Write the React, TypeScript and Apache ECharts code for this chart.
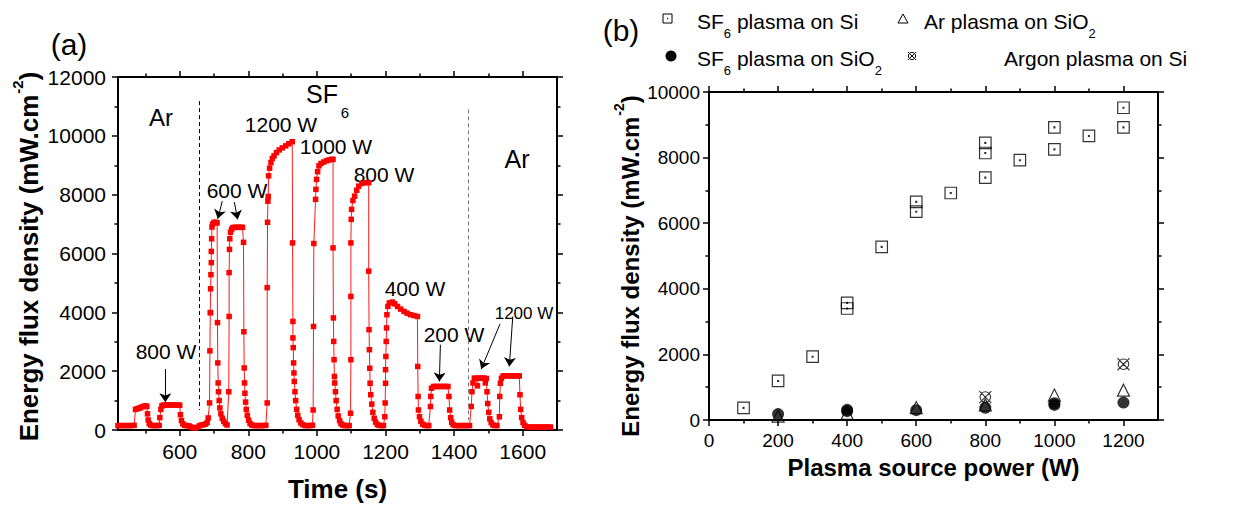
import React, { useEffect, useRef } from "react";
import * as echarts from "echarts";

const FONT = '"Liberation Sans", Arial, Helvetica, sans-serif';

// (a) measured trace: [time (s), energy flux density (mW.cm-2)]
const timeTrace: [number, number][] = [
  [420, 150], [428, 150], [436, 150], [444, 150], [452, 150], [460, 150], [467, 160],
  [471, 700], [476, 720], [481, 740], [486, 760], [491, 790], [496, 810], [501, 820], [504, 800],
  [506, 550], [508, 340], [511, 220], [515, 170], [521, 150], [528, 150], [535, 150], [540, 160],
  [542, 420], [545, 700], [548, 820], [553, 850], [560, 850], [567, 850], [574, 850], [581, 850], [588, 850], [595, 850], [600, 840],
  [602, 520], [605, 320], [609, 210], [614, 160], [620, 150], [627, 140], [633, 100], [639, 80], [645, 70], [651, 90], [657, 140], [663, 170], [669, 180], [675, 200], [680, 250], [683, 410],
  [687, 920], [688, 2690], [689, 3990], [690, 3990], [690, 4800], [691, 5280], [692, 5690], [692, 6070], [693, 6500], [694, 6900], [696, 7000], [700, 7060], [705, 7060], [709, 7040],
  [710, 3650], [711, 2280], [712, 1600], [713, 1300], [715, 1000], [717, 750], [720, 550], [724, 400], [728, 300], [733, 220], [738, 170],
  [743, 1300], [744, 3860], [744, 5350], [745, 6140], [746, 6500], [748, 6720], [751, 6820], [755, 6880], [760, 6890], [766, 6890], [772, 6890], [778, 6890], [783, 6890],
  [786, 6380], [787, 3340], [788, 2110], [789, 1600], [790, 1250], [792, 950], [794, 700], [797, 500], [801, 330], [805, 220], [810, 170],
  [816, 150], [823, 150], [830, 150], [837, 150], [844, 150], [851, 160],
  [855, 920], [855, 4840], [856, 7060], [857, 7780], [858, 7940], [859, 8640], [862, 8900], [866, 9090], [870, 9230], [875, 9320], [882, 9430], [890, 9520], [899, 9590], [909, 9660], [918, 9730], [928, 9800],
  [929, 6360], [930, 3690], [930, 3130], [931, 2800], [932, 2280], [933, 1940], [934, 1650], [936, 1300], [938, 1000], [941, 700], [944, 500], [948, 350], [953, 240], [959, 180],
  [966, 150], [973, 150], [980, 150], [987, 160],
  [989, 680], [990, 3520], [991, 6340], [996, 7840], [997, 8180], [999, 8520], [1002, 8780], [1006, 8980], [1012, 9060], [1020, 9110], [1028, 9150], [1035, 9180], [1042, 9200], [1047, 9200],
  [1047, 6190], [1048, 3810], [1049, 3010], [1050, 2390], [1051, 1820], [1052, 1600], [1054, 1300], [1056, 1000], [1059, 700], [1062, 480], [1066, 320], [1070, 220], [1075, 170],
  [1081, 150], [1088, 150], [1094, 150],
  [1098, 570], [1099, 2390], [1099, 4540], [1099, 6360], [1100, 7160], [1101, 7500], [1105, 7800], [1110, 7950], [1116, 8150], [1122, 8290], [1131, 8380], [1141, 8410], [1151, 8410],
  [1151, 5400], [1152, 3410], [1153, 2730], [1154, 2100], [1155, 1590], [1157, 1200], [1160, 880], [1163, 600], [1167, 400], [1171, 270], [1176, 190], [1181, 160],
  [1187, 150], [1194, 150],
  [1198, 450], [1199, 920], [1200, 1590], [1200, 2050], [1201, 2500], [1202, 3010], [1203, 3470], [1204, 3920], [1207, 4200], [1211, 4320], [1220, 4350], [1227, 4290], [1235, 4200], [1244, 4110], [1254, 4030], [1263, 3970], [1273, 3920], [1283, 3890], [1293, 3860],
  [1294, 2160], [1295, 1140], [1296, 680], [1299, 450], [1303, 300], [1308, 200], [1314, 160],
  [1320, 150], [1326, 150],
  [1331, 800], [1332, 1140], [1334, 1420], [1340, 1480], [1347, 1480], [1354, 1480], [1361, 1480], [1368, 1480], [1375, 1480], [1382, 1480],
  [1385, 1140], [1387, 680], [1390, 420], [1393, 260], [1397, 180],
  [1403, 150], [1410, 150], [1417, 150], [1424, 150], [1431, 150], [1438, 150], [1445, 150],
  [1450, 800], [1452, 1300], [1455, 1600], [1459, 1760], [1464, 1760], [1468, 1500], [1471, 1760], [1476, 1760], [1480, 1760], [1484, 1760], [1488, 1760], [1491, 1600], [1494, 1750],
  [1496, 1300], [1498, 900], [1501, 600], [1504, 380], [1508, 250], [1513, 170],
  [1519, 150], [1525, 150],
  [1532, 450], [1533, 1140], [1535, 1590], [1538, 1760], [1543, 1840], [1550, 1840], [1557, 1840], [1564, 1840], [1571, 1840], [1578, 1840], [1585, 1840], [1590, 1840],
  [1592, 1200], [1594, 700], [1597, 420], [1601, 250], [1606, 160],
  [1612, 110], [1619, 100], [1626, 100], [1633, 100], [1640, 100], [1647, 100], [1654, 100], [1661, 100], [1668, 100], [1675, 100], [1681, 100],
];

const timeLabelTicks = [600, 800, 1000, 1200, 1400, 1600];
const timeMinorTicks = [500, 700, 900, 1100, 1300, 1500];
const powerLabelTicks = [0, 200, 400, 600, 800, 1000, 1200];
const powerMinorTicks = [100, 300, 500, 700, 900, 1100];

// (b) energy flux density vs plasma source power
const sf6SiPower = [100, 200, 300, 400, 400, 500, 600, 600, 700, 800, 800, 800, 900, 1000, 1000, 1100, 1200, 1200];
const sf6SiFlux = [370, 1190, 1930, 3570, 3400, 5280, 6650, 6350, 6920, 8450, 8140, 7390, 7920, 8920, 8250, 8660, 9520, 8920];
const arSiO2Power = [200, 400, 600, 800, 1000, 1200];
const arSiO2Flux = [120, 200, 380, 460, 760, 910];
const sf6SiO2Power = [200, 400, 400, 600, 800, 1000, 1000, 1200];
const sf6SiO2Flux = [180, 270, 310, 300, 375, 460, 510, 530];
const argonSiPower = [800, 1200];
const argonSiFlux = [700, 1700];

const legendTexts = [
  "{n|SF}{s|6}{n| plasma on Si}",
  "{n|Ar plasma on SiO}{s|2}",
  "{n|SF}{s|6}{n| plasma on SiO}{s|2}",
  "{n|Argon plasma on Si}",
];

const zip = (xs: number[], ys: number[]) => xs.map((x, i) => [x, ys[i]]);

const SQUARE_DOT = "path://M0 0H10V10H0Z M4.6 4.6H5.4V5.4H4.6Z";
const CROSSED = "path://M0.6 5A4.4 4.4 0 1 1 9.4 5A4.4 4.4 0 1 1 0.6 5Z M0 0L10 10M10 0L0 10";

const richSub = (size: number) => ({
  n: { fontSize: size, fontFamily: FONT, color: "#000", lineHeight: size, verticalAlign: "top" },
  s: { fontSize: Math.round(size * 0.62), fontFamily: FONT, color: "#000", lineHeight: Math.round(size * 0.62), verticalAlign: "top", padding: [Math.round(size * 0.78), 0, 0, 0] },
});

const yNameRich = (size: number) => ({
  n: { fontSize: size, fontWeight: "bold", fontFamily: FONT, color: "#000", lineHeight: size + 6, verticalAlign: "bottom" },
  p: { fontSize: Math.round(size * 0.58), fontWeight: "bold", fontFamily: FONT, color: "#000", lineHeight: Math.round(size * 0.58), verticalAlign: "top", padding: [0, 0, 0, 1] },
});

const tickStyle = { color: "#000", width: 1.5 };
const lineStyleAxis = { color: "#000", width: 2 };

function xAxes(gridIndex: number, min: number, max: number, labels: number[], minor: number[], fontSize: number, margin: number, name: string, nameGap: number, nameSize: number) {
  const base = { type: "value", gridIndex, min, max, splitLine: { show: false } };
  return [
    {
      ...base, position: "bottom",
      axisLine: { show: true, onZero: false, lineStyle: lineStyleAxis },
      axisTick: { show: true, customValues: labels, length: 6, lineStyle: tickStyle },
      axisLabel: { show: true, customValues: labels, fontSize, fontFamily: FONT, color: "#000", margin, formatter: (v: number) => String(v) },
      name, nameLocation: "middle", nameGap,
      nameTextStyle: { fontSize: nameSize, fontWeight: "bold", fontFamily: FONT, color: "#000" },
    },
    {
      ...base, position: "bottom",
      axisLine: { show: false, onZero: false },
      axisTick: { show: true, customValues: minor, length: 3.5, lineStyle: tickStyle },
      axisLabel: { show: false },
    },
    {
      ...base, position: "top",
      axisLine: { show: true, onZero: false, lineStyle: lineStyleAxis },
      axisTick: { show: true, customValues: labels, length: 6, lineStyle: tickStyle },
      axisLabel: { show: false },
    },
    {
      ...base, position: "top",
      axisLine: { show: false, onZero: false },
      axisTick: { show: true, customValues: minor, length: 3.5, lineStyle: tickStyle },
      axisLabel: { show: false },
    },
  ];
}

function yAxes(gridIndex: number, max: number, fontSize: number, margin: number, nameGap: number, nameSize: number, namePad: number[]) {
  const base = {
    type: "value", gridIndex, min: 0, max, interval: 2000, splitLine: { show: false },
    axisTick: { show: true, length: 6, lineStyle: tickStyle },
    minorTick: { show: true, splitNumber: 2, length: 3.5, lineStyle: tickStyle },
  };
  return [
    {
      ...base, position: "left",
      axisLine: { show: true, onZero: false, lineStyle: lineStyleAxis },
      axisLabel: { show: true, fontSize, fontFamily: FONT, color: "#000", margin, formatter: (v: number) => String(v) },
      name: "{n|Energy flux density (mW.cm}{p|-2}{n|)}",
      nameLocation: "middle", nameRotate: 90, nameGap,
      nameTextStyle: { rich: yNameRich(nameSize), padding: namePad },
    },
    {
      ...base, position: "right",
      axisLine: { show: true, onZero: false, lineStyle: lineStyleAxis },
      axisLabel: { show: false },
    },
  ];
}

const txt = (text: string, x: number, y: number, size: number, extra: any = {}) => ({
  type: "text", x, y, silent: true,
  style: { text, fontSize: size, fontFamily: FONT, fill: "#000", align: "center", verticalAlign: "middle", textAlign: "center", textVerticalAlign: "middle", ...extra },
});

const richTxt = (text: string, x: number, y: number, size: number) => ({
  type: "text", x, y, silent: true,
  style: { text, fontSize: size, fontFamily: FONT, fill: "#000", align: "left", verticalAlign: "middle", textAlign: "left", textVerticalAlign: "middle", rich: richSub(size) },
});

export default function App() {
  const ref = useRef<HTMLDivElement>(null);
  useEffect(() => {
    if (!ref.current) return;
    const chart = echarts.init(ref.current, undefined, { renderer: "svg" });
    const arrowStyle = { color: "#000", width: 1, type: "solid" };
    const arrow = (a: number[], b: number[]) => [
      { coord: a, symbol: "none", lineStyle: arrowStyle },
      { coord: b, symbol: "arrow" },
    ];
    const option: any = {
      animation: false,
      backgroundColor: "#fff",
      grid: [
        { left: 118, top: 77, width: 439, height: 353 },
        { left: 709, top: 92, width: 449, height: 328 },
      ],
      xAxis: [
        ...xAxes(0, 420, 1700, timeLabelTicks, timeMinorTicks, 21, 11, "Time (s)", 46, 26),
        ...xAxes(1, 0, 1300, powerLabelTicks, powerMinorTicks, 19, 11, "Plasma source power (W)", 35, 24),
      ],
      yAxis: [
        ...yAxes(0, 12000, 21, 12, 76, 26, [0, 6, 0, 0]),
        ...yAxes(1, 10000, 19, 9, 67, 24, [0, 20, 0, 0]),
      ],
      series: [
        {
          type: "line", name: "Energy flux density", xAxisIndex: 0, yAxisIndex: 0,
          data: timeTrace, symbol: "rect", symbolSize: 5.5, showSymbol: true, silent: true,
          lineStyle: { color: "#ff1a1a", width: 1 }, itemStyle: { color: "#ff0000" },
          markLine: {
            silent: true, animation: false, symbolSize: 9, label: { show: false },
            emphasis: { disabled: true },
            lineStyle: { color: "#000", width: 1, type: "solid" },
            data: [
              [{ coord: [658, 11180], symbol: "none", lineStyle: { color: "#000", width: 1, type: [4, 3] } }, { coord: [658, 680], symbol: "none" }],
              [{ coord: [1441, 10900], symbol: "none", lineStyle: { color: "#777", width: 1, type: [4, 3] } }, { coord: [1441, 340], symbol: "none" }],
              arrow([558, 2070], [558, 945]),
              arrow([724, 7780], [711, 7180]),
              arrow([759, 7750], [769, 7160]),
              arrow([1360, 2900], [1357, 1650]),
              arrow([1534, 3610], [1479, 2070]),
              arrow([1571, 3860], [1561, 2160]),
            ],
          },
        },
        {
          type: "scatter", name: "SF6 plasma on Si", xAxisIndex: 4, yAxisIndex: 2,
          data: zip(sf6SiPower, sf6SiFlux), symbol: SQUARE_DOT, symbolSize: 11.5, silent: true,
          itemStyle: { color: "none", borderColor: "#000", borderWidth: 1.2 },
        },
        {
          type: "scatter", name: "Ar plasma on SiO2", xAxisIndex: 4, yAxisIndex: 2,
          data: zip(arSiO2Power, arSiO2Flux), symbol: "triangle", symbolSize: 12, silent: true,
          itemStyle: { color: "none", borderColor: "#000", borderWidth: 1.2 },
        },
        {
          type: "scatter", name: "SF6 plasma on SiO2", xAxisIndex: 4, yAxisIndex: 2,
          data: zip(sf6SiO2Power, sf6SiO2Flux), symbol: "circle", symbolSize: 12, silent: true,
          itemStyle: { color: "#000" },
        },
        {
          type: "scatter", name: "Argon plasma on Si", xAxisIndex: 4, yAxisIndex: 2,
          data: zip(argonSiPower, argonSiFlux), symbol: CROSSED, symbolSize: 12, silent: true,
          itemStyle: { color: "none", borderColor: "#000", borderWidth: 1.1 },
        },
      ],
      graphic: [
        txt("(a)", 69, 44, 30),
        txt("(b)", 621, 30, 30),
        txt("Ar", 161, 117, 24),
        txt("SF", 322, 94, 25),
        txt("6", 345, 112, 15),
        txt("Ar", 517, 159, 25),
        txt("800 W", 166, 351, 21),
        txt("600 W", 237, 190, 21),
        txt("1200 W", 281, 124, 21),
        txt("1000 W", 336, 146, 21),
        txt("800 W", 384, 174, 21),
        txt("400 W", 415, 288, 21),
        txt("200 W", 454, 334, 21),
        txt("1200 W", 524, 313, 17),
        // legend (b)
        { type: "rect", silent: true, shape: { x: 663, y: 14, width: 9, height: 9 }, style: { fill: "none", stroke: "#000", lineWidth: 1 } },
        { type: "rect", silent: true, shape: { x: 667, y: 18, width: 1.2, height: 1.2 }, style: { fill: "#000" } },
        richTxt(legendTexts[0], 697, 21, 21),
        { type: "polygon", silent: true, shape: { points: [[903, 14], [908, 23], [898, 23]] }, style: { fill: "none", stroke: "#000", lineWidth: 1 } },
        richTxt(legendTexts[1], 924, 21, 21),
        { type: "circle", silent: true, shape: { cx: 671, cy: 56, r: 5.5 }, style: { fill: "#000" } },
        richTxt(legendTexts[2], 697, 58, 21),
        { type: "circle", silent: true, shape: { cx: 912, cy: 56, r: 3.6 }, style: { fill: "none", stroke: "#000", lineWidth: 1 } },
        { type: "line", silent: true, shape: { x1: 908, y1: 52, x2: 916, y2: 60 }, style: { stroke: "#000", lineWidth: 1 } },
        { type: "line", silent: true, shape: { x1: 916, y1: 52, x2: 908, y2: 60 }, style: { stroke: "#000", lineWidth: 1 } },
        richTxt(legendTexts[3], 1004, 58, 21),
      ],
    };
    chart.setOption(option);
    return () => chart.dispose();
  }, []);
  return (
    <div
      ref={ref}
      style={{ position: "absolute", left: 0, top: 0, width: 1234, height: 508, background: "#fff" }}
    />
  );
}
